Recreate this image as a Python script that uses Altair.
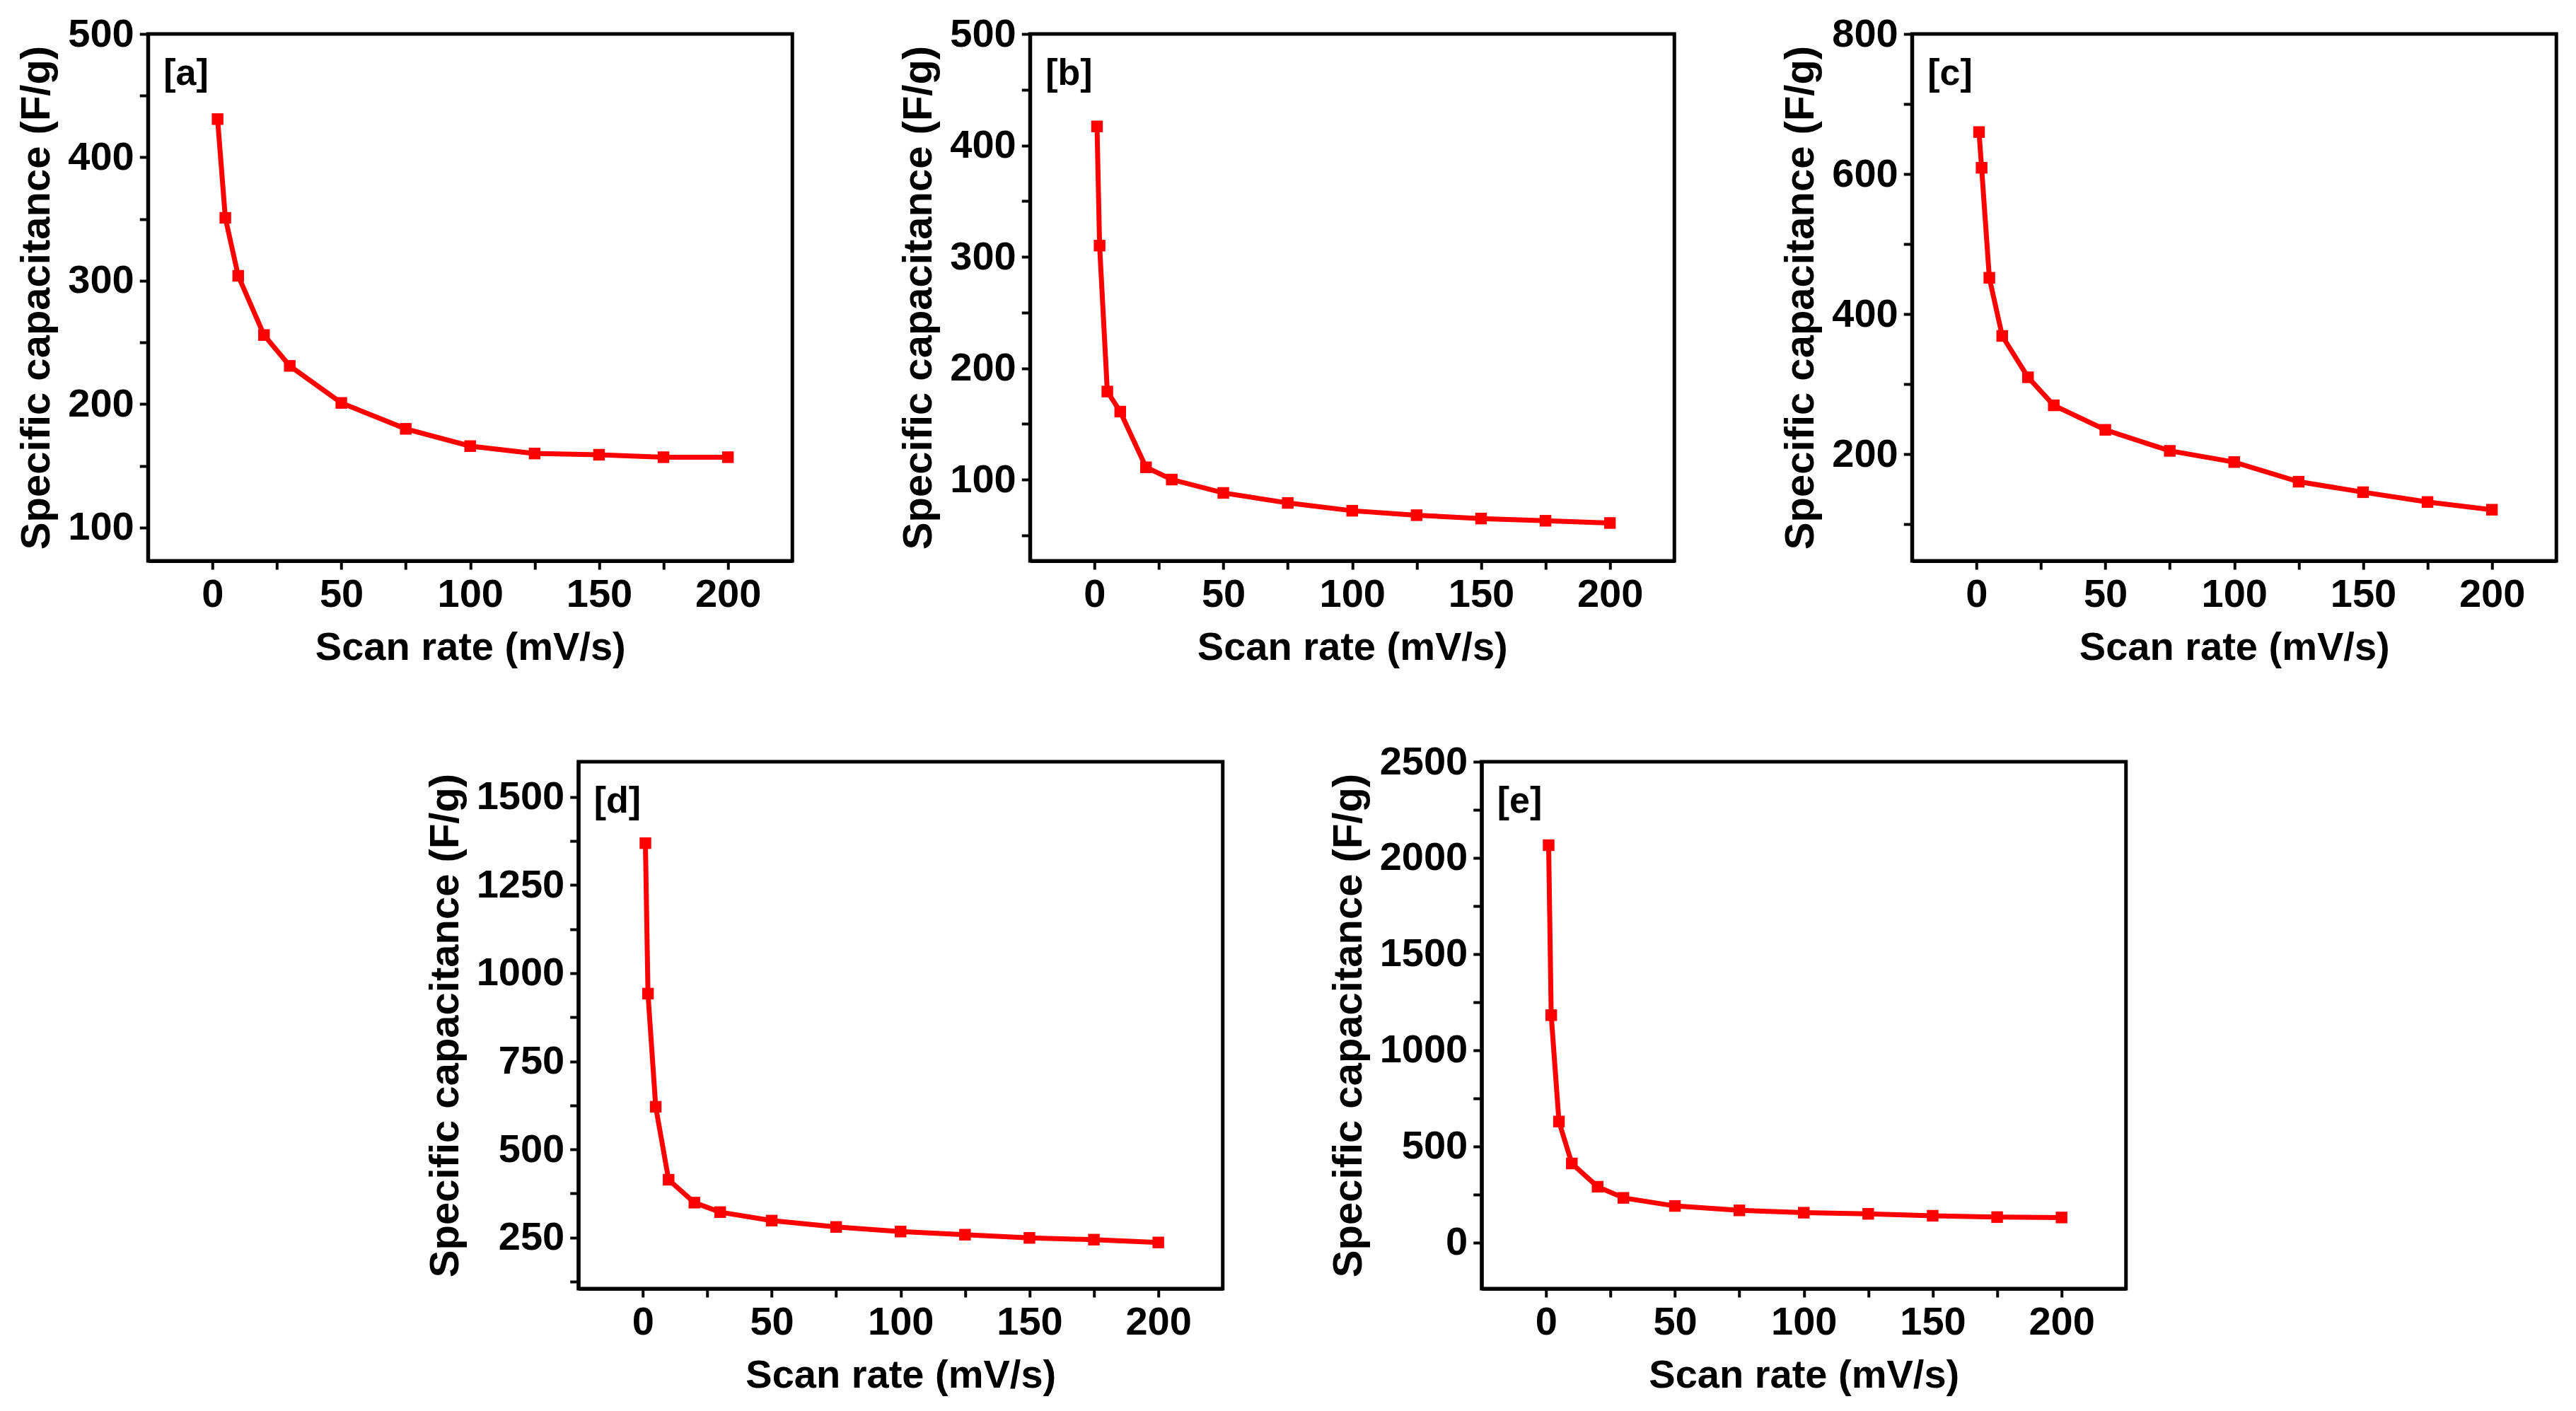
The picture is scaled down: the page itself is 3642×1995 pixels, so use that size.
import altair as alt
import pandas as pd

# ---- data ----
x_a = [2, 5, 10, 20, 30, 50, 75, 100, 125, 150, 175, 200]
y_a = [431, 351, 304, 256, 231, 201, 180, 166, 160, 159, 157, 157]

x_b = [1, 2, 5, 10, 20, 30, 50, 75, 100, 125, 150, 175, 200]
y_b = [417, 310, 179, 161, 111, 100, 88, 79, 72, 68, 65, 63, 61]

x_c = [1, 2, 5, 10, 20, 30, 50, 75, 100, 125, 150, 175, 200]
y_c = [660, 609, 452, 369, 310, 270, 235, 205, 189, 161, 146, 132, 121]

x_d = [1, 2, 5, 10, 20, 30, 50, 75, 100, 125, 150, 175, 200]
y_d = [1369, 942, 621, 414, 349, 322, 298, 280, 267, 258, 249, 244, 236]

x_e = [1, 2, 5, 10, 20, 30, 50, 75, 100, 125, 150, 175, 200]
y_e = [2066, 1182, 629, 411, 290, 232, 190, 167, 155, 149, 139, 132, 130]

panel_labels = ["[a]", "[b]", "[c]", "[d]", "[e]"]
x_ticks = [0, 25, 50, 75, 100, 125, 150, 175, 200]
y_domains = [[73, 500], [27, 500], [48, 800], [105, 1600], [-240, 2500]]
y_ticks = [
    [100, 150, 200, 250, 300, 350, 400, 450, 500],
    [50, 100, 150, 200, 250, 300, 350, 400, 450, 500],
    [100, 200, 300, 400, 500, 600, 700, 800],
    [125, 250, 375, 500, 625, 750, 875, 1000, 1125, 1250, 1375, 1500],
    [0, 250, 500, 750, 1000, 1250, 1500, 1750, 2000, 2250, 2500],
]
y_label_steps = [100, 100, 200, 250, 500]

FONT = "Liberation Sans, Arial, sans-serif"
RED = "#ff0000"
W, H = 911, 745


def panel(xs, ys, label, dom, ticks, step):
    df = pd.DataFrame({"x": xs, "y": ys})
    base = alt.Chart(df).encode(
        x=alt.X(
            "x:Q",
            scale=alt.Scale(domain=[-25, 225], nice=False, zero=False),
            axis=alt.Axis(
                title="Scan rate (mV/s)",
                values=x_ticks,
                format="d",
                labelExpr="datum.value % 50 === 0 ? datum.label : ''",
                grid=False,
            ),
        ),
        y=alt.Y(
            "y:Q",
            scale=alt.Scale(domain=dom, nice=False, zero=False),
            axis=alt.Axis(
                title="Specific capacitance (F/g)",
                values=ticks,
                format="d",
                labelExpr=f"datum.value % {step} === 0 ? datum.label : ''",
                grid=False,
            ),
        ),
    )
    line = base.mark_line(color=RED, strokeWidth=7)
    pts = base.mark_square(color=RED, size=270, opacity=1)
    txt = alt.Chart(pd.DataFrame({"t": [label]})).mark_text(
        font=FONT, fontSize=52, fontWeight="bold", align="left",
        baseline="middle", color="black"
    ).encode(text="t:N", x=alt.value(22), y=alt.value(56))
    return alt.layer(line, pts, txt).properties(width=W, height=H)


pa = panel(x_a, y_a, panel_labels[0], y_domains[0], y_ticks[0], y_label_steps[0])
pb = panel(x_b, y_b, panel_labels[1], y_domains[1], y_ticks[1], y_label_steps[1])
pc = panel(x_c, y_c, panel_labels[2], y_domains[2], y_ticks[2], y_label_steps[2])
pd_ = panel(x_d, y_d, panel_labels[3], y_domains[3], y_ticks[3], y_label_steps[3])
pe = panel(x_e, y_e, panel_labels[4], y_domains[4], y_ticks[4], y_label_steps[4])

top = alt.hconcat(pa, pb, pc, spacing=145)
bottom = alt.hconcat(pd_, pe, spacing=143)

chart = (
    alt.vconcat(top, bottom, spacing=100, center=True)
    .properties(padding={"left": 13, "top": 9, "right": 5, "bottom": 0})
    .configure_view(stroke="black", strokeWidth=5)
    .configure_axis(
        labelFont=FONT,
        titleFont=FONT,
        labelFontSize=56,
        titleFontSize=56,
        labelFontWeight="bold",
        titleFontWeight="bold",
        labelColor="black",
        titleColor="black",
        domainColor="black",
        domainWidth=5,
        tickColor="black",
        tickWidth=4,
        tickSize=12,
        labelPadding=8,
    )
    .configure_axisY(titlePadding=14, titleFontSize=58)
    .configure_axisX(titlePadding=20, labelPadding=8)
)

chart.save("out.html", embed_options={"renderer": "svg", "actions": False})
